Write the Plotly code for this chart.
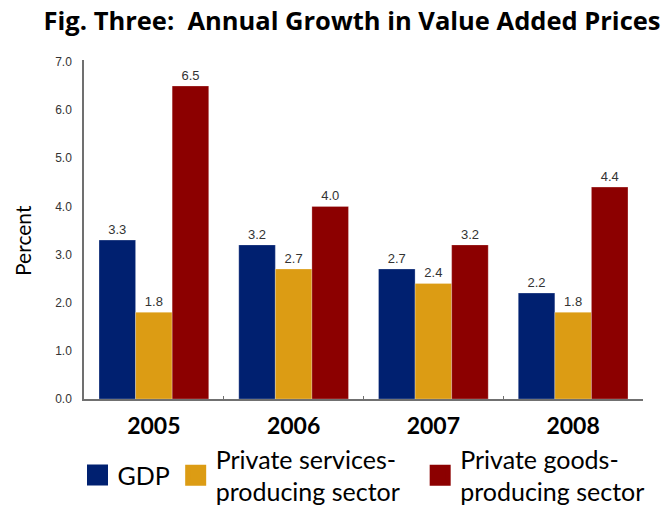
import plotly.graph_objects as go

years = ["2005", "2006", "2007", "2008"]
gdp = [3.3, 3.2, 2.7, 2.2]
services = [1.8, 2.7, 2.4, 1.8]
goods = [6.5, 4.0, 3.2, 4.4]
series_names = ["GDP", "Private services-<br>producing sector", "Private goods-<br>producing sector"]
colors = ["#002070", "#DC9C14", "#8C0000"]
legend_ids = ["legend", "legend2", "legend3"]
y_title = "Percent"

fig = go.Figure()
for name, vals, col, lg in zip(series_names, [gdp, services, goods], colors, legend_ids):
    fig.add_trace(go.Bar(
        x=years, y=vals, marker=dict(color=col, line=dict(color="rgba(255,255,255,0.5)", width=0.5)),
        text=[f"{v:.1f}" for v in vals], textposition="outside",
        textfont=dict(family="Liberation Sans, Arial", size=13, color="#333333"),
        cliponaxis=False, showlegend=False, name=name.replace("<br>", " ")))
    fig.add_trace(go.Scatter(
        x=[None], y=[None], mode="markers", name=name, legend=lg,
        marker=dict(symbol="square", size=16, color=col, line=dict(color=col, width=5)),
        showlegend=True))

leg_common = dict(orientation="v", yref="container", xref="container",
                  yanchor="middle", y=0.061, xanchor="left",
                  font=dict(family="Lato", size=25, color="black"),
                  itemsizing="trace", bgcolor="rgba(0,0,0,0)", borderwidth=0, valign="middle")

fig.update_layout(
    width=668, height=506,
    margin=dict(l=84, r=25, t=60, b=107, autoexpand=False),
    paper_bgcolor="white", plot_bgcolor="white",
    barmode="group", bargap=0.215, bargroupgap=0,
    title=dict(text="<b>Fig. Three:  Annual Growth in Value Added Prices</b>",
               font=dict(family="Open Sans", size=25.5, color="black"),
               x=0.527, xanchor="center", y=0.958, yanchor="middle"),
    xaxis=dict(showline=True, linecolor="#707070", linewidth=1.5,
               tickfont=dict(family="Lato", size=23, color="black", weight="bold"),
               ticks="inside", tickson="boundaries", ticklen=3, tickcolor="#707070",
               ticklabelstandoff=6, showgrid=False),
    yaxis=dict(range=[0, 7.04], tickvals=[0, 1, 2, 3, 4, 5, 6, 7], tickformat=".1f",
               showline=True, linecolor="#707070", linewidth=1.5, ticks="",
               tickfont=dict(family="Liberation Sans, Arial", size=12, color="#333333"),
               ticklabelstandoff=8, showgrid=False, zeroline=False),
    legend=dict(x=0.116, **leg_common),
    legend2=dict(x=0.263, **leg_common),
    legend3=dict(x=0.629, **leg_common),
    annotations=[dict(text=y_title, xref="paper", yref="paper", x=-0.111, y=0.469,
                      xanchor="center", yanchor="middle", textangle=-90, showarrow=False,
                      font=dict(family="Lato", size=21, color="black"))],
)
fig.write_html("out.html")
